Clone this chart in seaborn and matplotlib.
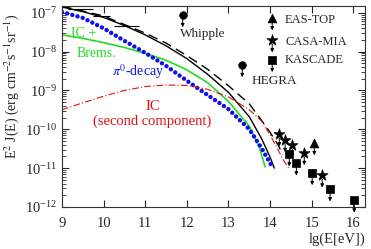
import matplotlib
matplotlib.use("Agg")
import matplotlib.pyplot as plt
import seaborn as sns

# model curves: lg(E[eV]) and E^2 J(E)
total_x = [9.0, 9.5, 10.0, 10.5, 11.0, 11.5, 12.0, 12.5, 13.0, 13.5, 13.8, 14.0, 14.1]
total_y = [1.41e-7, 1.07e-7, 7.6e-8, 4.7e-8, 2.7e-8, 1.41e-8, 6.6e-9, 2.6e-9, 8.9e-10, 2.1e-10, 5.6e-11, 1.9e-11, 1.0e-11]

alt_x = [9.0, 10.0, 11.0, 11.5, 12.0, 12.5, 13.0, 13.5, 13.8, 14.0, 14.2, 14.3]
alt_y = [1.48e-7, 8.3e-8, 3.0e-8, 1.66e-8, 7.9e-9, 3.5e-9, 1.32e-9, 4.5e-10, 1.66e-10, 8.3e-11, 3.8e-11, 2.2e-11]

pion_x = [9.0, 9.5, 10.0, 10.5, 11.0, 11.5, 12.0, 12.5, 13.0, 13.5, 13.8, 14.05]
pion_y = [1.05e-7, 7.4e-8, 4.0e-8, 1.9e-8, 9.3e-9, 4.3e-9, 1.78e-9, 7.6e-10, 3.3e-10, 1.0e-10, 3.2e-11, 1.07e-11]

icb_x = [9.0, 9.5, 10.0, 10.5, 11.0, 11.5, 12.0, 12.5, 13.0, 13.5, 13.75, 13.88]
icb_y = [2.7e-8, 2.2e-8, 1.7e-8, 1.28e-8, 9.0e-9, 6.0e-9, 3.4e-9, 1.58e-9, 5.2e-10, 1.2e-10, 3.2e-11, 1.07e-11]

ic2_x = [9.0, 9.5, 10.0, 10.5, 11.0, 11.5, 12.0, 12.5, 13.0, 13.5, 13.8, 14.0, 14.2, 14.35, 14.45]
ic2_y = [3.2e-10, 4.8e-10, 7.1e-10, 1.0e-9, 1.26e-9, 1.38e-9, 1.35e-9, 1.07e-9, 6.8e-10, 3.2e-10, 1.6e-10, 7.1e-11, 2.8e-11, 1.4e-11, 1.0e-11]

# GeV data with energy bins
gev_x = [9.45, 9.95, 10.55]
gev_xerr = [0.3, 0.2, 0.3]
gev_y = [1.25e-7, 8.5e-8, 4.7e-8]

# upper limits
whipple_x, whipple_y = [11.9], [8.9e-8]
hegra_x, hegra_y = [13.33], [4.6e-9]
eastop_x, eastop_y = [15.06], [4.5e-11]
casa_x = [14.22, 14.36, 14.53, 14.82, 15.25]
casa_y = [7.6e-11, 5.4e-11, 4.0e-11, 2.5e-11, 6.6e-12]
kascade_x = [14.46, 14.63, 15.01, 15.44, 16.02]
kascade_y = [2.3e-11, 1.35e-11, 7.6e-12, 2.9e-12, 1.5e-12]

x_ticks = [9, 10, 11, 12, 13, 14, 15, 16]
y_ticks = [1e-12, 1e-11, 1e-10, 1e-9, 1e-8, 1e-7]

sns.set_theme(style="ticks")
plt.rcParams["font.family"] = ["Liberation Serif", "DejaVu Serif"]
plt.rcParams["mathtext.fontset"] = "stix"

fig = plt.figure(figsize=(3.71, 2.49), dpi=100)
ax = fig.add_axes([0.167, 0.169, 0.817, 0.807])
ax.set_yscale("log")

GREEN = "#22dd22"
BLUE = "#1010ee"
RED = "#e01010"

sns.lineplot(x=total_x, y=total_y, ax=ax, color="black", lw=1.0, sort=False)
sns.lineplot(x=alt_x, y=alt_y, ax=ax, color="black", lw=1.0, sort=False)
ax.lines[-1].set_linestyle((0, (7, 4)))
sns.lineplot(x=icb_x, y=icb_y, ax=ax, color=GREEN, lw=1.2, sort=False)
sns.lineplot(x=pion_x, y=pion_y, ax=ax, color=BLUE, lw=3.2, sort=False)
ax.lines[-1].set_linestyle((0, (0.01, 1.2)))
ax.lines[-1].set_dash_capstyle("round")
sns.lineplot(x=ic2_x, y=ic2_y, ax=ax, color=RED, lw=0.8, sort=False)
ax.lines[-1].set_linestyle((0, (6, 2, 1, 2)))

ax.errorbar(gev_x, gev_y, xerr=gev_xerr, fmt="none", ecolor="black", elinewidth=0.8, capsize=0)


def upper_limits(xs, ys, marker, size):
    sns.scatterplot(x=xs, y=ys, ax=ax, marker=marker, s=size, color="black",
                    edgecolor="black", linewidth=0.5, zorder=5)
    for xv, yv in zip(xs, ys):
        ax.annotate("", xy=(xv, yv), xytext=(0, -9), textcoords="offset points",
                    arrowprops=dict(arrowstyle="<|-", color="black", lw=0.7,
                                    mutation_scale=5, shrinkA=0, shrinkB=3))


upper_limits(whipple_x, whipple_y, "o", 30)
upper_limits(hegra_x, hegra_y, "o", 30)
upper_limits(eastop_x, eastop_y, "^", 40)
upper_limits(casa_x, casa_y, "*", 70)
upper_limits(kascade_x, kascade_y, "s", 40)

# legend-like key
upper_limits([14.05], [7.4e-8], "^", 40)
upper_limits([14.05], [2.0e-8], "*", 70)
upper_limits([14.05], [6.2e-9], "s", 40)
ax.text(14.36, 6.4e-8, "EAS-TOP", fontsize=9, va="center")
ax.text(14.36, 1.75e-8, "CASA-MIA", fontsize=9, va="center")
ax.text(14.36, 6.0e-9, "KASCADE", fontsize=9, va="center")

ax.text(11.84, 2.9e-8, "Whipple", fontsize=9.5, va="center")
ax.text(13.55, 1.8e-9, "HEGRA", fontsize=9.5, va="center")
ax.text(9.22, 3.0e-8, "IC +", fontsize=10, color=GREEN, va="center")
ax.text(9.36, 9.0e-9, "Brems.", fontsize=10, color=GREEN, va="center")
ax.text(10.2, 3.0e-9, r"$\pi^0$-decay", fontsize=10, color=BLUE, va="center")
ax.text(11.19, 3.8e-10, "IC", fontsize=10.5, color=RED, va="center", ha="center")
ax.text(11.16, 1.6e-10, "(second component)", fontsize=10.5, color=RED, va="center", ha="center")

ax.set_xlim(9, 16.28)
ax.set_ylim(1e-12, 1.5e-7)
ax.set_xticks(x_ticks)
ax.set_yticks(y_ticks)
ax.tick_params(which="both", direction="in", top=True, right=True, labelsize=10.5)
ax.tick_params(which="major", length=5, width=0.8)
ax.tick_params(which="minor", length=3, width=0.6)
ax.tick_params(axis="x", pad=7)
ax.set_ylabel(r"E$^2$ J(E) (erg cm$^{-2}$s$^{-1}$sr$^{-1}$)", fontsize=10)
ax.yaxis.set_label_coords(-0.135, 0.6)
ax.set_xlabel("lg(E[eV])", fontsize=10.5, loc="right", labelpad=2)
for sp in ax.spines.values():
    sp.set_linewidth(0.8)
    sp.set_color("#333333")

fig.savefig("out.png", dpi=100)
